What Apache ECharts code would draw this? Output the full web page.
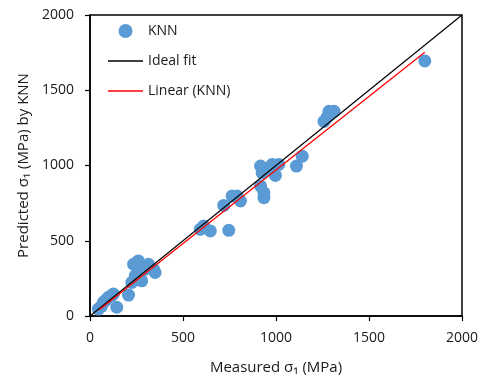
<!DOCTYPE html>
<html>
<head>
<meta charset="utf-8">
<script src="https://cdn.jsdelivr.net/npm/echarts@6/dist/echarts.min.js"></script>
<style>
  html, body { margin: 0; padding: 0; background: #fff; }
  #chart { width: 493px; height: 380px; }
</style>
</head>
<body>
<div id="chart"></div>
<script>
// measured vs predicted sigma1 (MPa)
const measured = [45, 60, 72, 85, 99, 115, 126, 144, 207, 225, 243, 234, 260, 278, 270, 296, 314, 341, 350,
  593, 611, 647, 746, 719, 764, 791, 809, 917, 925, 970, 980, 1015, 997, 917, 935, 935, 1110, 1141,
  1258, 1275, 1285, 1312, 1800];
const predicted = [46, 62, 91, 105, 124, 135, 146, 58, 139, 223, 267, 344, 366, 234, 290, 311, 344, 311, 289,
  576, 598, 565, 569, 735, 797, 797, 764, 996, 951, 974, 1007, 1007, 934, 863, 819, 786, 996, 1062,
  1293, 1320, 1360, 1360, 1695];

const idealX = [0, 2000];
const idealY = [0, 2000];
const linearX = [50, 1800];
const linearY = [42, 1753];

const axisTicks = [0, 500, 1000, 1500, 2000];

const font = '"Open Sans", "DejaVu Sans", sans-serif';
const textCol = '#1a1a1a';
const lineIcon = 'path://M0,0 H35 V1.3 H0 Z';

const chart = echarts.init(document.getElementById('chart'));

const option = {
    animation: false,
    backgroundColor: '#fff',
    textStyle: { fontFamily: font, color: textCol },
    grid: {
        left: 90, right: 31, top: 15, bottom: 62,
        show: true, borderColor: '#000', borderWidth: 1.5
    },
    legend: {
        orient: 'vertical',
        left: 108, top: 24, padding: 0,
        itemWidth: 35, itemHeight: 14, itemGap: 16,
        symbolKeepAspect: true,
        textStyle: { fontFamily: font, fontSize: 14, color: textCol },
        data: [
            { name: 'KNN', icon: 'circle' },
            { name: 'Ideal fit', icon: lineIcon },
            { name: 'Linear (KNN)', icon: lineIcon }
        ]
    },
    xAxis: {
        type: 'value',
        min: axisTicks[0], max: axisTicks[axisTicks.length - 1], interval: 500,
        name: 'Measured σ₁ (MPa)',
        nameLocation: 'middle', nameGap: 44,
        nameTextStyle: { fontFamily: font, fontSize: 15, color: textCol },
        axisLine: { lineStyle: { color: '#000', width: 1.5 } },
        axisTick: { inside: false, length: 5, lineStyle: { color: '#000', width: 1.2 } },
        axisLabel: { fontFamily: font, fontSize: 14, color: textCol, margin: 15, formatter: v => String(v) },
        splitLine: { show: false }
    },
    yAxis: {
        type: 'value',
        min: axisTicks[0], max: axisTicks[axisTicks.length - 1], interval: 500,
        name: 'Predicted σ₁ (MPa) by KNN',
        nameLocation: 'middle', nameGap: 56,
        nameTextStyle: { fontFamily: font, fontSize: 15, color: textCol },
        axisLine: { lineStyle: { color: '#000', width: 1.5 } },
        axisTick: { inside: false, length: 5, lineStyle: { color: '#000', width: 1.2 } },
        axisLabel: { fontFamily: font, fontSize: 14, color: textCol, margin: 16, formatter: v => String(v) },
        splitLine: { show: false }
    },
    series: [
        {
            name: 'KNN',
            type: 'scatter',
            symbolSize: 13,
            itemStyle: { color: '#5b9bd5', opacity: 1 },
            data: measured.map((x, i) => [x, predicted[i]]),
            z: 2
        },
        {
            name: 'Ideal fit',
            type: 'line',
            symbol: 'none',
            lineStyle: { color: '#000', width: 1.2 },
            itemStyle: { color: '#000' },
            data: idealX.map((x, i) => [x, idealY[i]]),
            z: 3
        },
        {
            name: 'Linear (KNN)',
            type: 'line',
            symbol: 'none',
            lineStyle: { color: '#ff0000', width: 1.3 },
            itemStyle: { color: '#ff0000' },
            data: linearX.map((x, i) => [x, linearY[i]]),
            z: 4
        }
    ]
};

chart.setOption(option);
</script>
</body>
</html>
